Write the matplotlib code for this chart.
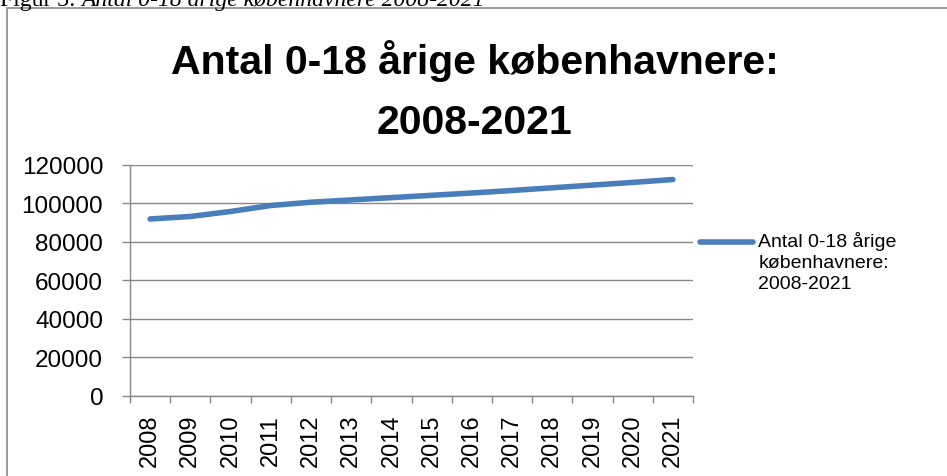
import matplotlib
matplotlib.use("Agg")
import matplotlib.pyplot as plt
from matplotlib.legend_handler import HandlerLine2D
from matplotlib.patches import Rectangle

years = ["2008", "2009", "2010", "2011", "2012", "2013", "2014",
         "2015", "2016", "2017", "2018", "2019", "2020", "2021"]
values = [91800, 93100, 95700, 98800, 100500, 101700, 102900,
          104100, 105300, 106600, 108000, 109400, 110800, 112300]
series_label = "Antal 0-18 årige\nkøbenhavnere:\n2008-2021"
title = "Antal 0-18 årige københavnere:\n2008-2021"
caption_a = "Figur 3: "
caption_b = "Antal 0-18 årige københavnere 2008-2021"
yticks = [0, 20000, 40000, 60000, 80000, 100000, 120000]

W, H = 947, 477
plt.rcParams['font.family'] = ['Liberation Sans', 'DejaVu Sans']

fig = plt.figure(figsize=(W / 100, H / 100), dpi=100)
ax = fig.add_axes([130 / W, 1 - 396.7 / H, (693 - 130) / W, (396.7 - 165.7) / H])

GRAY = '#888888'
x = list(range(len(years)))
line, = ax.plot(x, values, color='#4a7ebb', lw=4.0, solid_capstyle='round',
                solid_joinstyle='round', label=series_label, zorder=3)

ax.set_ylim(0, 120000)
ax.set_yticks(yticks)
ax.set_yticklabels([str(v) for v in yticks])
ax.set_xlim(-0.5, len(years) - 0.5)
ax.set_xticks([i - 0.5 for i in range(len(years) + 1)])
ax.set_xticklabels([])
ax.set_xticks(x, minor=True)
ax.set_xticklabels(years, minor=True, rotation=90)

ax.grid(axis='y', color=GRAY, lw=1.0)
ax.set_axisbelow(True)
for s in ['top', 'right']:
    ax.spines[s].set_visible(False)
for s in ['left', 'bottom']:
    ax.spines[s].set_color(GRAY)
    ax.spines[s].set_linewidth(1.0)

ax.tick_params(axis='y', which='major', direction='out', length=5.8, width=1.0,
               color=GRAY, labelsize=17.5, pad=13.5, labelcolor='black')
ax.tick_params(axis='x', which='major', direction='out', length=5, width=1.0,
               color=GRAY)
ax.tick_params(axis='x', which='minor', length=0, labelsize=17, pad=13,
               labelcolor='black')


class UpHandler(HandlerLine2D):
    def __init__(self, offset, **kw):
        super().__init__(**kw)
        self.offset = offset

    def create_artists(self, legend, orig_handle, xdescent, ydescent,
                       width, height, fontsize, trans):
        arts = super().create_artists(legend, orig_handle, xdescent, ydescent,
                                      width, height, fontsize, trans)
        for a in arts:
            a.set_ydata([y + self.offset for y in a.get_ydata()])
        return arts


leg = fig.legend(handles=[line], loc='upper left',
                 bbox_to_anchor=(700 / W, 1 - 232 / H),
                 frameon=False, fontsize=14, borderpad=0, borderaxespad=0,
                 handlelength=2.75, handletextpad=0.25,
                 handler_map={line: UpHandler(offset=14.0)})
for t in leg.get_texts():
    t.set_linespacing(1.3)

fig.text(474.5 / W, 1 - 40 / H, title, ha='center', va='top',
         fontsize=29.5, fontweight='bold', linespacing=1.72)

# caption above the chart (mostly cut off at the top edge)
cap1 = fig.text(0 / W, 1 - 6 / H, caption_a, ha='left', va='baseline',
                fontsize=17, family='Liberation Serif')
renderer = fig.canvas.get_renderer()
bb = cap1.get_window_extent(renderer=renderer)
fig.text(bb.x1 / W, 1 - 6 / H, caption_b,
         ha='left', va='baseline', fontsize=17, family='Liberation Serif',
         style='italic')

fig.patches.append(Rectangle((7 / W, -0.2), 2.0, 1.2 - 9 / H,
                             transform=fig.transFigure, fill=False,
                             edgecolor='#8a8a8a', lw=1.2))

fig.savefig('out.png', dpi=100)
